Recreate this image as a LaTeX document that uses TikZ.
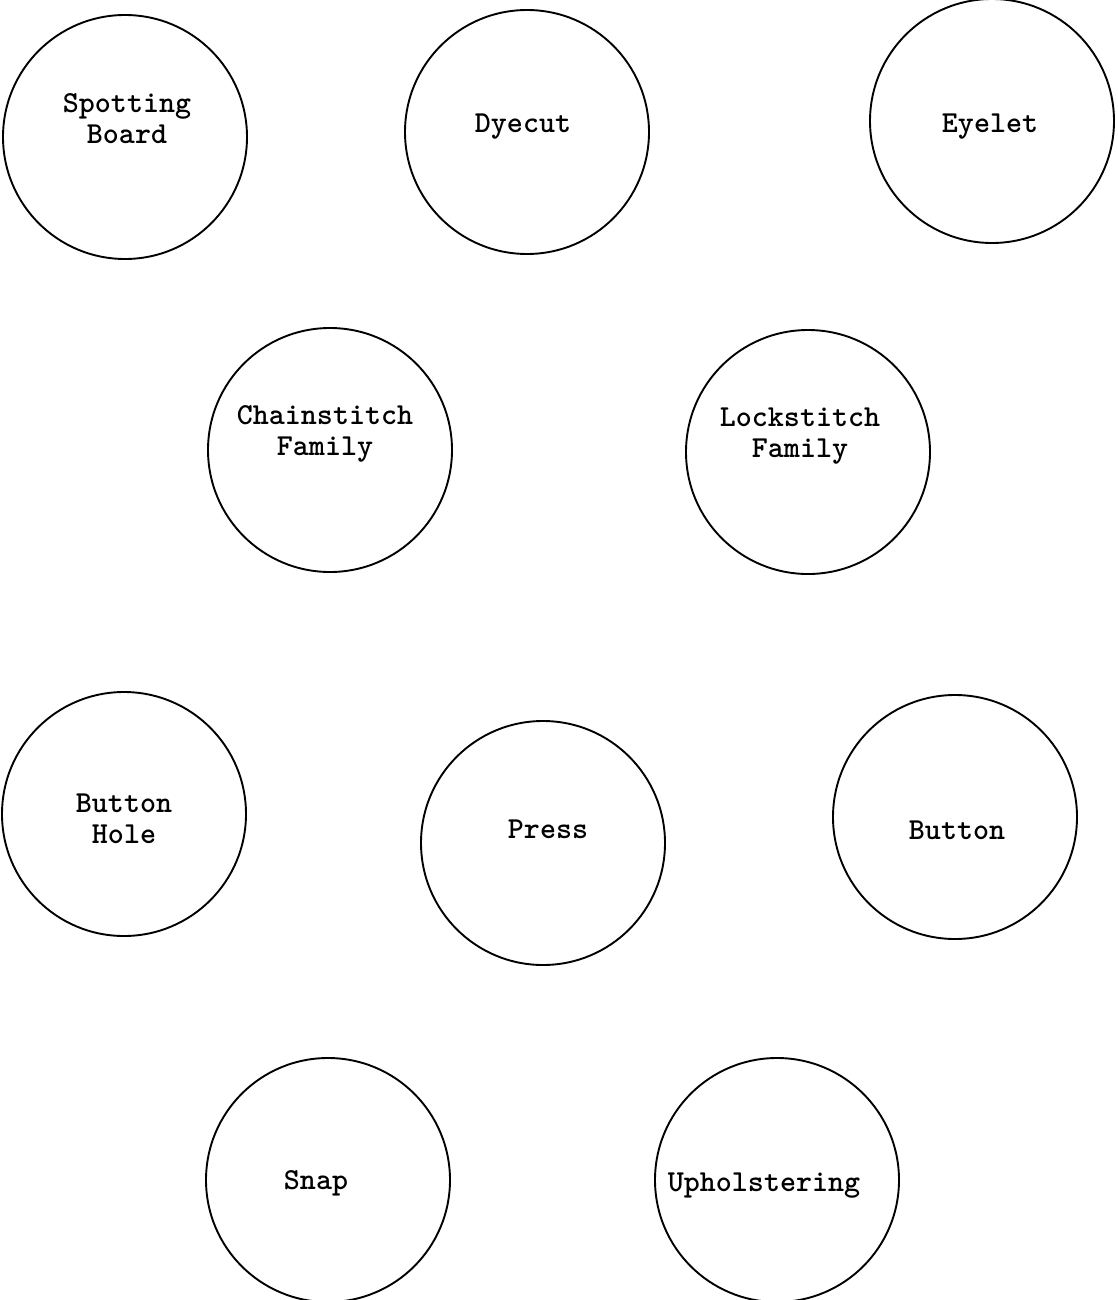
\documentclass[tikz,border=0pt]{standalone}
\begin{document}
\begin{tikzpicture}[x=1pt,y=-1pt,
  ring/.style={circle,draw=black,line width=1.9pt,minimum size=244pt,inner sep=0pt},
  lbl/.style={font=\ttfamily\bfseries\fontsize{30.5}{31}\selectfont,align=center,inner sep=0pt}]
\useasboundingbox[fill=white] (0,0) rectangle (1118,1300);
\node[ring] (c1) at (125,137) {};
\node[ring] (c2) at (527,132) {};
\node[ring] (c3) at (992,121) {};
\node[ring] (c4) at (330,450) {};
\node[ring] (c5) at (808,452) {};
\node[ring] (c6) at (124,814) {};
\node[ring] (c7) at (543,843) {};
\node[ring] (c8) at (955,817) {};
\node[ring] (c9) at (328,1180) {};
\node[ring] (c10) at (777,1180) {};
\node[lbl] (t1) at (127,119) {Spotting\\Board};
\node[lbl] (t2) at (523,127) {Dyecut};
\node[lbl] (t3) at (990,127) {Eyelet};
\node[lbl] (t4) at (325,434) {Chainstitch\\Family};
\node[lbl] (t5) at (800,436) {Lockstitch\\Family};
\node[lbl] (t6) at (124,819) {Button\\Hole};
\node[lbl] (t7) at (548,829) {Press};
\node[lbl] (t8) at (957,830) {Button};
\node[lbl] (t9) at (316,1183) {Snap};
\node[lbl] (t10) at (764,1186) {Upholstering};
\end{tikzpicture}
\end{document}
